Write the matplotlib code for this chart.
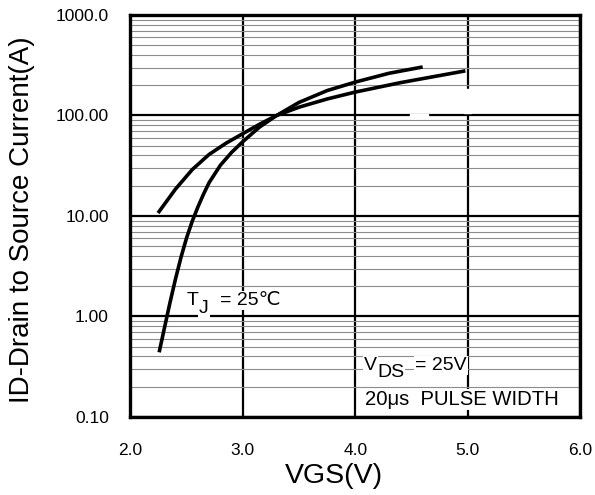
import matplotlib
matplotlib.use('Agg')
import matplotlib.pyplot as plt
from matplotlib.patches import Rectangle
from matplotlib.ticker import FixedLocator, LogLocator, NullFormatter

plt.rcParams['font.family'] = ['Liberation Sans', 'DejaVu Sans']

# curve starting high at low VGS (ends at 5.0 V)
vgs_a = [2.245, 2.4, 2.55, 2.7, 2.85, 3.0, 3.15, 3.3, 3.5, 3.75, 4.0, 4.4, 4.98]
id_a = [10.7, 18.5, 29, 41, 53, 66, 82, 100, 121, 146, 171, 212, 278]

# steep 25C curve (ends at 4.6 V)
vgs_b = [2.255, 2.3, 2.35, 2.4, 2.45, 2.5, 2.55, 2.6, 2.65, 2.7, 2.8, 2.9, 3.0,
         3.15, 3.3, 3.5, 3.75, 4.0, 4.3, 4.6]
id_b = [0.44, 0.75, 1.35, 2.35, 3.9, 6.1, 8.9, 12.3, 16.5, 21.5, 32, 43, 55,
        77, 100, 135, 177, 215, 263, 304]

xticks = [2.0, 3.0, 4.0, 5.0, 6.0]
xlabels = ['2.0', '3.0', '4.0', '5.0', '6.0']
yticks = [0.1, 1, 10, 100, 1000]
ylabels = ['0.10', '1.00', '10.00', '100.00', '1000.0']

fig = plt.figure(figsize=(5.95, 4.95), dpi=100)
ax = fig.add_axes([0.2193, 0.1576, 0.7555, 0.8121])

ax.set_yscale('log')
ax.set_xlim(2, 6)
ax.set_ylim(0.1, 1000)

ax.xaxis.set_major_locator(FixedLocator(xticks))
ax.set_xticklabels(xlabels)
ax.yaxis.set_major_locator(FixedLocator(yticks))
ax.set_yticklabels(ylabels)
ax.yaxis.set_minor_locator(LogLocator(base=10, subs=range(2, 10)))
ax.yaxis.set_minor_formatter(NullFormatter())
ax.tick_params(which='both', length=0, labelsize=12.5)
ax.tick_params(axis='x', pad=18.5)
ax.tick_params(axis='y', pad=15.5)

ax.grid(which='minor', axis='y', color='#8c8c8c', lw=0.8)
ax.grid(which='major', color='black', lw=1.6)
ax.set_axisbelow(True)
for s in ax.spines.values():
    s.set_linewidth(2.4)

# small gaps in the grid from the original sheet
ax.add_patch(Rectangle((4.97, 106), 0.06, 78, color='white', zorder=1.5))
ax.add_patch(Rectangle((4.49, 96), 0.16, 8, color='white', zorder=1.5))

ax.plot(vgs_a, id_a, color='black', lw=2.6, zorder=3, solid_capstyle='butt')
ax.plot(vgs_b, id_b, color='black', lw=2.6, zorder=3, solid_capstyle='butt')

box = dict(facecolor='white', edgecolor='none', pad=1.0)
fs = 14
ax.text(2.503, 1.30, 'T', fontsize=fs, bbox=box, zorder=2)
ax.text(2.61, 1.08, 'J', fontsize=fs, bbox=box, zorder=2)
ax.text(2.797, 1.30, '= 25\u2103', fontsize=fs, bbox=box, zorder=2)

ax.text(4.077, 0.294, 'V', fontsize=fs, bbox=box, zorder=2)
ax.text(4.193, 0.25, 'DS', fontsize=fs, bbox=box, zorder=2)
ax.text(4.531, 0.294, '= 25V', fontsize=fs, bbox=box, zorder=2)
ax.text(4.086, 0.1315, '20\u03bcs  PULSE WIDTH', fontsize=14.6, bbox=box, zorder=2)

ax.set_xlabel('VGS(V)', fontsize=20.5)
ax.xaxis.set_label_coords(0.453, -0.115)
ax.set_ylabel('ID-Drain to Source Current(A)', fontsize=20)
ax.yaxis.set_label_coords(-0.212, 0.49)

fig.savefig('out.png', dpi=100)
